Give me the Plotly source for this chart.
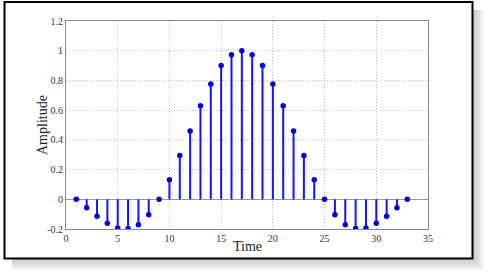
import plotly.graph_objects as go

# ---- data ----
time = list(range(1, 34))
amplitude = [0.0, -0.057, -0.115, -0.162, -0.193, -0.197, -0.171, -0.104, 0.0,
             0.132, 0.295, 0.46, 0.63, 0.776, 0.90, 0.973, 1.0, 0.973, 0.90,
             0.776, 0.63, 0.46, 0.295, 0.132, 0.0, -0.104, -0.171, -0.197,
             -0.193, -0.162, -0.115, -0.057, 0.0]
x_ticks = [0, 5, 10, 15, 20, 25, 30, 35]
y_ticks = [-0.2, 0, 0.2, 0.4, 0.6, 0.8, 1.0, 1.2]
y_tick_labels = ["-0.2", "0", "0.2", "0.4", "0.6", "0.8", "1", "1.2"]
x_title = "Time"
y_title = "Amplitude"

W, H = 488, 275
ML, MR, MT, MB = 66, 60, 21, 46
PW, PH = W - ML - MR, H - MT - MB

def px(x):
    return (x - ML) / PW

def py(y):
    return (H - MB - y) / PH

# stem lines built from data
sx, sy = [], []
for t, a in zip(time, amplitude):
    sx += [t, t, None]
    sy += [0, a, None]

blue = "rgb(20,20,255)"
fig = go.Figure()
fig.add_trace(go.Scatter(x=sx, y=sy, mode="lines",
                         line=dict(color=blue, width=2), hoverinfo="skip",
                         showlegend=False))
fig.add_trace(go.Scatter(x=time, y=amplitude, mode="markers",
                         marker=dict(color="rgb(0,0,220)", size=5.5),
                         showlegend=False))

shapes = []
# drop shadow
for k in [2, 4, 6, 8, 10, 12]:
    shapes.append(dict(type="rect", xref="paper", yref="paper", layer="below",
                       x0=px(12), x1=px(472 + k), y0=py(10), y1=py(258 + k),
                       fillcolor="rgba(110,110,110,0.07)", line=dict(width=0)))
# frame
shapes.append(dict(type="rect", xref="paper", yref="paper", layer="below",
                   x0=px(4.5), x1=px(472.5), y0=py(2), y1=py(258.5),
                   fillcolor="white", line=dict(color="black", width=2)))

font = "Liberation Serif, Times New Roman, serif"
annotations = [
    dict(text=x_title, xref="paper", yref="paper", x=px(247), y=py(247),
         showarrow=False, xanchor="center", yanchor="middle",
         font=dict(family=font, size=14, color="#222")),
    dict(text=y_title, xref="paper", yref="paper", x=px(42), y=py(125),
         showarrow=False, xanchor="center", yanchor="middle", textangle=-90,
         font=dict(family=font, size=14, color="#222")),
]

fig.update_layout(
    width=W, height=H,
    margin=dict(l=ML, r=MR, t=MT, b=MB),
    paper_bgcolor="white", plot_bgcolor="white",
    shapes=shapes, annotations=annotations,
    font=dict(family=font, color="#222", size=10),
    xaxis=dict(range=[0, 35], tickvals=x_ticks, showgrid=True, automargin=False,
               gridcolor="#bbb", griddash="1px,2px", gridwidth=1,
               showline=True, linecolor="#888", linewidth=1, mirror=True,
               ticks="", zeroline=False, ticklabelstandoff=0,
               tickfont=dict(family=font, size=10, color="#333")),
    yaxis=dict(range=[-0.2, 1.2], tickvals=y_ticks, ticktext=y_tick_labels,
               automargin=False,
               showgrid=True, gridcolor="#bbb", griddash="1px,2px", gridwidth=1,
               showline=True, linecolor="#888", linewidth=1, mirror=True,
               ticks="", zeroline=True, zerolinecolor="#999", zerolinewidth=1,
               tickfont=dict(family=font, size=10, color="#333")),
)

fig.write_html("out.html", config={"displayModeBar": False},
               post_script="document.body.style.margin='0';")
